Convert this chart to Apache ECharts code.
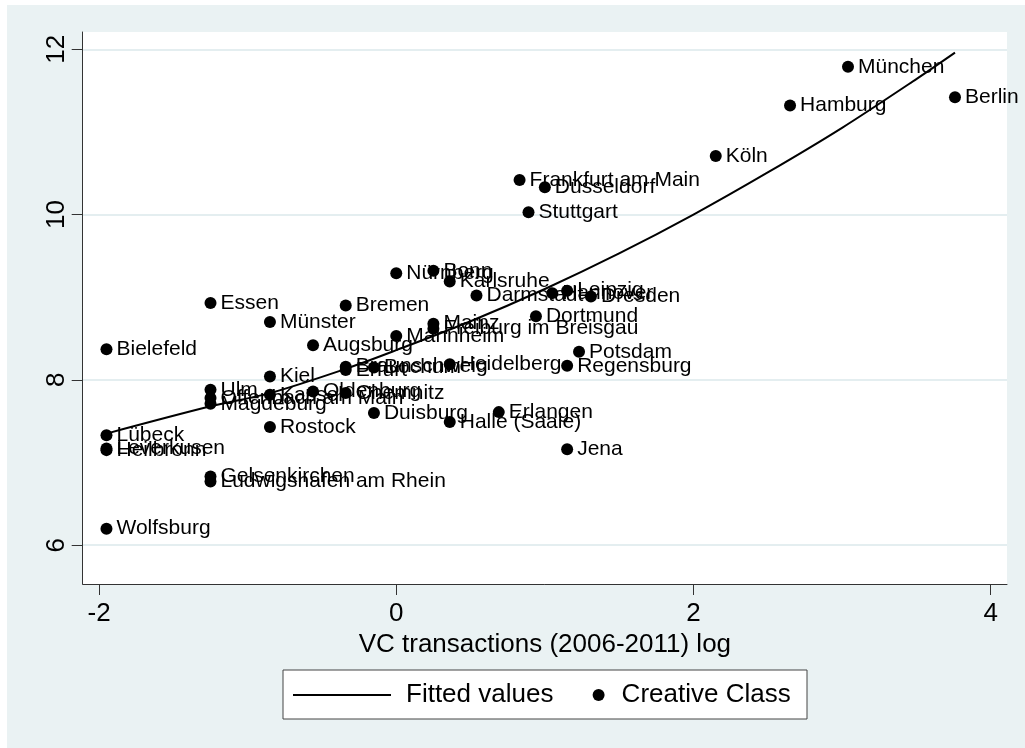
<!DOCTYPE html>
<html>
<head>
<meta charset="utf-8">
<title>Creative Class vs VC transactions</title>
<script src="https://cdn.jsdelivr.net/npm/echarts@6.0.0/dist/echarts.min.js"></script>
<style>
  html, body { margin: 0; padding: 0; background: #ffffff; width: 1025px; height: 748px; overflow: hidden; }
  #chart { position: absolute; left: 7px; top: 5px; width: 1018px; height: 743px; }
</style>
</head>
<body>
<div id="chart"></div>
<script>
// German cities: log of VC transactions (2006-2011) and Creative Class share
const cityNames = [
  'München', 'Berlin', 'Hamburg', 'Köln', 'Frankfurt am Main', 'Düsseldorf', 'Stuttgart',
  'Nürnberg', 'Bonn', 'Karlsruhe', 'Darmstadt', 'Hannover', 'Leipzig', 'Dresden',
  'Essen', 'Bremen', 'Dortmund', 'Münster', 'Mainz', 'Freiburg im Breisgau', 'Mannheim',
  'Augsburg', 'Bielefeld', 'Potsdam', 'Braunschweig', 'Erfurt', 'Bochum', 'Heidelberg',
  'Regensburg', 'Kiel', 'Ulm', 'Oldenburg', 'Chemnitz', 'Kassel', 'Offenbach am Main',
  'Magdeburg', 'Erlangen', 'Duisburg', 'Halle (Saale)', 'Rostock', 'Lübeck', 'Leverkusen',
  'Heilbronn', 'Jena', 'Gelsenkirchen', 'Ludwigshafen am Rhein', 'Wolfsburg'
];
const vcLog = [
  3.04, 3.76, 2.65, 2.15, 0.83, 1.00, 0.89,
  0.00, 0.25, 0.36, 0.54, 1.05, 1.15, 1.31,
  -1.25, -0.34, 0.94, -0.85, 0.25, 0.25, 0.00,
  -0.56, -1.95, 1.23, -0.34, -0.34, -0.15, 0.36,
  1.15, -0.85, -1.25, -0.56, -0.34, -0.85, -1.25,
  -1.25, 0.69, -0.15, 0.36, -0.85, -1.95, -1.95,
  -1.95, 1.15, -1.25, -1.25, -1.95
];
const creativeClass = [
  11.79, 11.42, 11.32, 10.71, 10.42, 10.33, 10.03,
  9.29, 9.32, 9.19, 9.02, 9.05, 9.08, 9.01,
  8.93, 8.90, 8.77, 8.70, 8.68, 8.62, 8.53,
  8.42, 8.37, 8.34, 8.16, 8.12, 8.15, 8.19,
  8.17, 8.04, 7.88, 7.86, 7.84, 7.82, 7.78,
  7.71, 7.61, 7.60, 7.49, 7.43, 7.33, 7.17,
  7.15, 7.16, 6.83, 6.77, 6.20
];

// Quadratic fit curve, sampled along the x range
const fitX = [-1.95, -1.25, -0.85, -0.33, 0.00, 0.50, 1.00, 1.50, 2.00, 2.50, 3.00, 3.50, 3.76];
const fitY = [7.35, 7.68, 7.84, 8.14, 8.36, 8.71, 9.10, 9.53, 10.00, 10.51, 11.05, 11.64, 11.96];

const xTicks = [-2, 0, 2, 4];
const yTicks = [6, 8, 10, 12];

const FONT = "'Liberation Sans', Arial, sans-serif";

const scatterData = cityNames.map((n, i) => ({ name: n, value: [vcLog[i], creativeClass[i]] }));
const fitData = fitX.map((x, i) => [x, fitY[i]]);

const chart = echarts.init(document.getElementById('chart'), null, { renderer: 'canvas' });

chart.setOption({
  backgroundColor: '#eaf2f3',
  animation: false,
  textStyle: { fontFamily: FONT },
  grid: {
    left: 75.7, right: 18, top: 27, bottom: 164,
    show: true, backgroundColor: '#ffffff', borderWidth: 0
  },
  xAxis: {
    type: 'value',
    min: -2.11, max: 4.11,
    name: 'VC transactions (2006-2011) log',
    nameLocation: 'middle',
    nameGap: 37,
    nameTextStyle: { fontSize: 26, color: '#000', fontFamily: FONT },
    axisLine: { show: true, onZero: false, lineStyle: { color: '#333', width: 1 } },
    axisTick: { show: true, length: 11, customValues: xTicks, lineStyle: { color: '#333', width: 1 } },
    axisLabel: { customValues: xTicks, fontSize: 26, color: '#000', margin: 17, fontFamily: FONT },
    splitLine: { show: false }
  },
  yAxis: {
    type: 'value',
    min: 5.53, max: 12.21,
    axisLine: { show: true, onZero: false, lineStyle: { color: '#333', width: 1 } },
    axisTick: { show: true, length: 11, customValues: yTicks, lineStyle: { color: '#333', width: 1 } },
    axisLabel: { customValues: yTicks, fontSize: 26, color: '#000', margin: 13, rotate: 90, fontFamily: FONT },
    splitLine: { show: true, lineStyle: { color: '#e4eef0', width: 2 } }
  },
  legend: [
    {
      data: [{ name: 'Fitted values', icon: 'rect', itemStyle: { color: '#000' } }],
      left: 286, top: 677, padding: 0,
      itemWidth: 98, itemHeight: 2,
      selectedMode: false,
      textStyle: { fontSize: 26, color: '#000', fontFamily: FONT, padding: [0, 0, 0, 10] }
    },
    {
      data: [{ name: 'Creative Class', icon: 'circle', itemStyle: { color: '#000', opacity: 1 } }],
      left: 585.6, top: 677, padding: 0,
      itemWidth: 12, itemHeight: 12,
      selectedMode: false,
      textStyle: { fontSize: 26, color: '#000', fontFamily: FONT, padding: [0, 0, 0, 12] }
    }
  ],
  graphic: [
    {
      type: 'rect', z: 1,
      shape: { x: 276, y: 665, width: 524, height: 49 },
      style: { fill: '#ffffff', stroke: '#444', lineWidth: 1 }
    }
  ],
  series: [
    {
      name: 'Fitted values',
      type: 'line',
      data: fitData,
      symbol: 'none',
      smooth: 0.3,
      lineStyle: { color: '#000', width: 2 },
      itemStyle: { color: '#000' },
      z: 2
    },
    {
      name: 'Creative Class',
      type: 'scatter',
      data: scatterData,
      symbol: 'circle',
      symbolSize: 12,
      itemStyle: { color: '#000', opacity: 1 },
      label: {
        show: true,
        position: 'right',
        distance: 4,
        formatter: '{b}',
        fontSize: 21,
        color: '#000',
        fontFamily: FONT
      },
      z: 3
    }
  ]
});
</script>
</body>
</html>
